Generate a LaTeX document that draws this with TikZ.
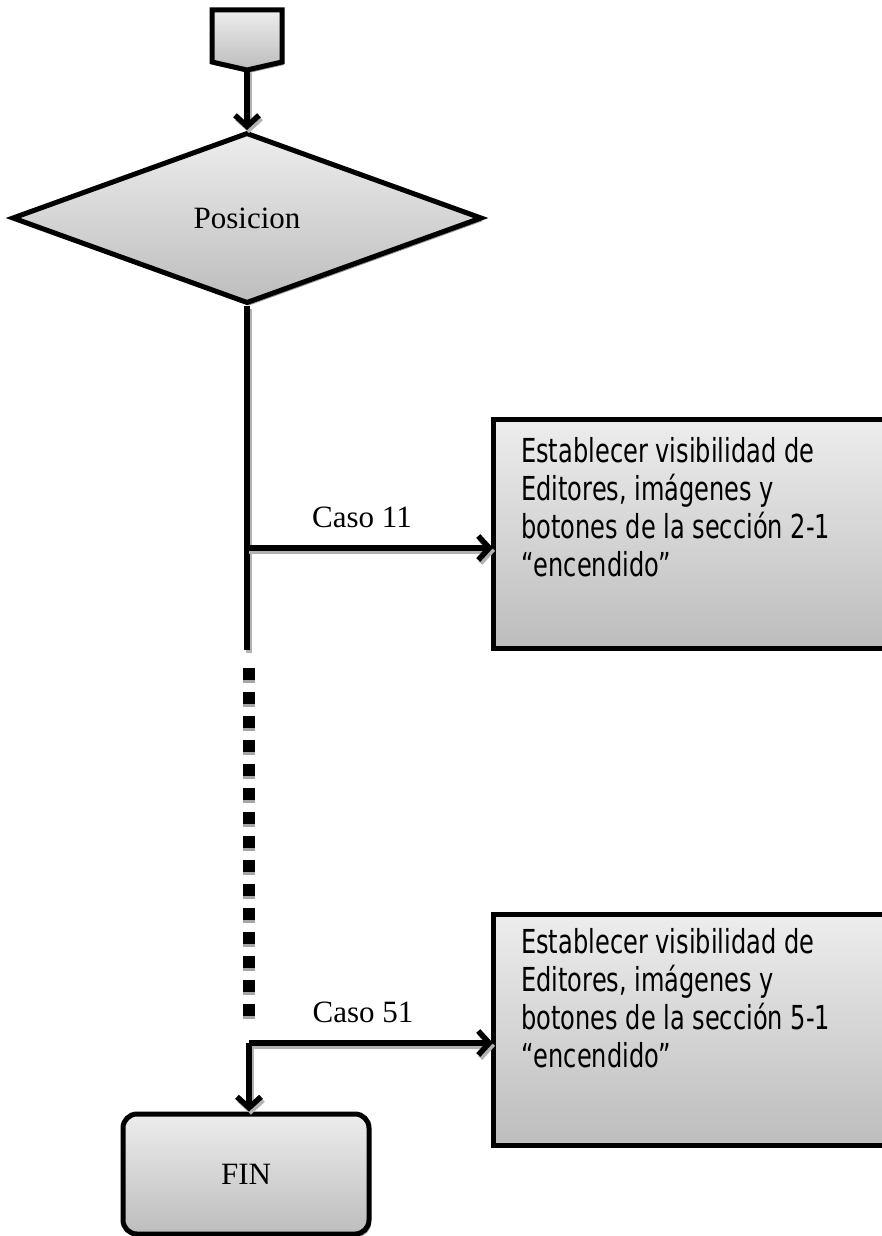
\documentclass[tikz,border=0pt]{standalone}
\usepackage{fontspec}
\setmainfont{Liberation Serif}
\newfontfamily\boxfont[FakeStretch=0.73]{DejaVu Sans}
\usetikzlibrary{shapes.geometric,shadows,arrows.meta,calc}

\begin{document}
\begin{tikzpicture}[x=1pt,y=-1pt,
  shadebox/.style={top color=black!7, bottom color=black!26, draw=black, line width=5pt},
  shadowed/.style={drop shadow={shadow xshift=2pt,shadow yshift=-3pt,fill=black!40,opacity=1}},
  conn/.style={line width=5.5pt,
    preaction={draw=black!30, line width=5.5pt, transform canvas={shift={(2pt,-3pt)}}}},
  dots/.style={line width=12pt, dash pattern=on 12pt off 12pt,
    preaction={draw=black!35, line width=12pt, dash pattern=on 12pt off 12pt,
      transform canvas={shift={(0pt,-3pt)}}}},
  >={Straight Barb[length=11pt,width=24pt]},
  lbl/.style={font=\fontsize{31}{36}\selectfont, inner sep=0pt},
  body/.style={font=\boxfont\fontsize{33}{38}\selectfont, align=left, inner sep=0pt, anchor=north west}
]
\useasboundingbox (0,0) rectangle (882,1236);
\clip (0,0) rectangle (882,1236);

% off-page connector at the top
\path[shadebox, shadowed] (212,10) -- (282,10) -- (282,62) -- (247,70) -- (212,62) -- cycle;
\coordinate (tip) at (247,70);

% decision
\node[diamond, shadebox, shadowed, aspect=2.75, minimum width=470pt, minimum height=171pt,
      inner sep=0pt, lbl] (dec) at (247,218) {Posicion};

% actions
\node[shadebox, shadowed, rectangle, minimum width=440pt, minimum height=229pt,
      anchor=north west, inner sep=0pt, outer sep=0pt] (act1) at (493,419) {};
\node[body] (txt1) at (521,437) {Establecer visibilidad de\\Editores, imágenes y\\botones de la sección 2-1\\“encendido”};

\node[shadebox, shadowed, rectangle, minimum width=440pt, minimum height=231pt,
      anchor=north west, inner sep=0pt, outer sep=0pt] (act2) at (493,914) {};
\node[body] (txt2) at (521,928) {Establecer visibilidad de\\Editores, imágenes y\\botones de la sección 5-1\\“encendido”};

% end
\node[shadebox, shadowed, rectangle, rounded corners=14pt, minimum width=246pt,
      minimum height=120pt, lbl] (fin) at (246,1174) {FIN};

% junction points
\coordinate (trunkend) at (247,650);
\coordinate (c11) at (247,548);
\coordinate (dottop) at (249,668);
\coordinate (dotbottom) at (249,1016);
\coordinate (c51) at (249,1043);

% connectors
\draw[conn,->] (tip) -- (tip |- dec.north);
\draw[conn] (dec.south) -- (trunkend);
\draw[conn,->] (c11) -- (c11 -| act1.west);
\node[lbl, anchor=base] (k11) at (362,527) {Caso 11};
\draw[dots] (dottop) -- (dotbottom);
\draw[conn,->] (c51) -- (c51 -| act2.west);
\node[lbl, anchor=base] (k51) at (363,1022) {Caso 51};
\draw[conn,->] (c51) -- (c51 |- fin.north);
\end{tikzpicture}
\end{document}
